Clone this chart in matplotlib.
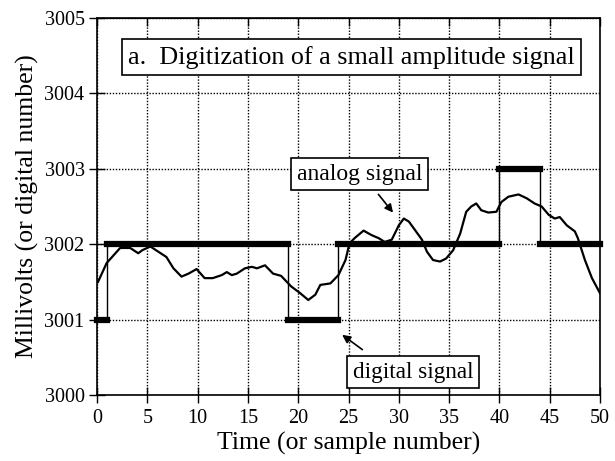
import matplotlib
matplotlib.use("Agg")
import matplotlib.pyplot as plt
import numpy as np

# ---- data ----
analog_t = [0.1, 0.96, 2.3, 3.3, 4.1, 4.5, 5.3, 6.1, 6.9, 7.6, 8.4, 9.1, 9.9, 10.7, 11.5,
            12.4, 12.9, 13.4, 13.9, 14.7, 15.4, 15.9, 16.7, 17.5, 18.3, 19.3, 20.2, 21.0,
            21.7, 22.2, 23.2, 24.0, 24.7, 25.1, 25.6, 26.5, 27.3, 28.0, 28.6, 29.3, 30.0,
            30.5, 31.0, 31.6, 32.3, 32.8, 33.4, 34.1, 34.7, 35.4, 36.1, 36.7, 37.2, 37.7,
            38.2, 38.9, 39.7, 40.2, 40.9, 41.9, 42.7, 43.5, 44.2, 44.9, 45.5, 46.0, 46.7,
            47.5, 47.8, 48.5, 49.2, 50.0]
analog_v = [3001.50, 3001.75, 3001.95, 3001.95, 3001.88, 3001.92, 3001.97, 3001.90, 3001.83,
            3001.68, 3001.57, 3001.61, 3001.67, 3001.55, 3001.55, 3001.59, 3001.63, 3001.59,
            3001.61, 3001.68, 3001.70, 3001.68, 3001.72, 3001.61, 3001.58, 3001.44, 3001.35,
            3001.26, 3001.33, 3001.46, 3001.48, 3001.59, 3001.79, 3002.01, 3002.08, 3002.18,
            3002.12, 3002.08, 3002.03, 3002.06, 3002.25, 3002.34, 3002.30, 3002.19, 3002.06,
            3001.90, 3001.79, 3001.77, 3001.81, 3001.92, 3002.14, 3002.43, 3002.50, 3002.54,
            3002.45, 3002.42, 3002.43, 3002.56, 3002.63, 3002.66, 3002.61, 3002.54, 3002.50,
            3002.39, 3002.34, 3002.36, 3002.25, 3002.17, 3002.08, 3001.79, 3001.55, 3001.35]

digital_edges = [0, 1, 19, 24, 40, 44, 50]
digital_levels = [3001, 3002, 3001, 3002, 3003, 3002]

x_ticks = list(range(0, 51, 5))
y_ticks = [3000, 3001, 3002, 3003, 3004, 3005]

title_text = "a.  Digitization of a small amplitude signal"
analog_label = "analog signal"
digital_label = "digital signal"
xlabel = "Time (or sample number)"
ylabel = "Millivolts (or digital number)"

# ---- figure ----
plt.rcParams['font.family'] = ['Liberation Serif', 'DejaVu Serif']
fig = plt.figure(figsize=(6.15, 4.61), dpi=100)
ax = fig.add_axes([97/615, 1-395/461, (600-97)/615, (395-18)/461])

ax.set_xlim(0, 50)
ax.set_ylim(3000, 3005)
ax.set_xticks(x_ticks)
ax.set_yticks(y_ticks)
ax.tick_params(axis='both', direction='inout', length=12, width=1, labelsize=14.5)
ax.tick_params(axis='x', pad=4)
ax.tick_params(axis='y', pad=3)
ax.grid(True, color='black', linestyle=(0, (1, 1.2)), linewidth=1.0)
for s in ax.spines.values():
    s.set_linewidth(1.2)

sec = ax.secondary_xaxis('top')
sec.set_xticks(x_ticks)
sec.tick_params(direction='in', length=6, width=1, labeltop=False)

# digital signal
ax.hlines(digital_levels, digital_edges[:-1], digital_edges[1:], colors='black',
          linewidth=4.5, zorder=3, clip_on=False, capstyle='projecting')
for i in range(1, len(digital_edges) - 1):
    lo, hi = sorted([digital_levels[i - 1], digital_levels[i]])
    ax.vlines(digital_edges[i], lo, hi, colors='black', linewidth=1.0, zorder=3)

# analog signal
ax.plot(analog_t, analog_v, color='black', linewidth=1.6, zorder=4)

# labels
ax.set_xlabel(xlabel, fontsize=18.5, labelpad=3)
ax.set_ylabel(ylabel, fontsize=18.5, labelpad=4)

box = dict(boxstyle='square,pad=0.25', facecolor='white', edgecolor='black', linewidth=1.2)
ax.text(3.1, 3004.48, title_text, fontsize=18.8, ha='left', va='center', bbox=box, zorder=6)
ax.text(26.1, 3002.93, analog_label, fontsize=17, ha='center', va='center', bbox=box, zorder=6)
ax.text(31.4, 3000.305, digital_label, fontsize=16.7, ha='center', va='center', bbox=box, zorder=6)

ax.annotate('', xy=(29.6, 3002.39), xytext=(27.8, 3002.69),
            arrowprops=dict(arrowstyle='-|>', color='black', lw=1.2, mutation_scale=12), zorder=6)
ax.annotate('', xy=(24.15, 3000.82), xytext=(26.6, 3000.58),
            arrowprops=dict(arrowstyle='-|>', color='black', lw=1.2, mutation_scale=12), zorder=6)

fig.savefig('out.png', dpi=100)
